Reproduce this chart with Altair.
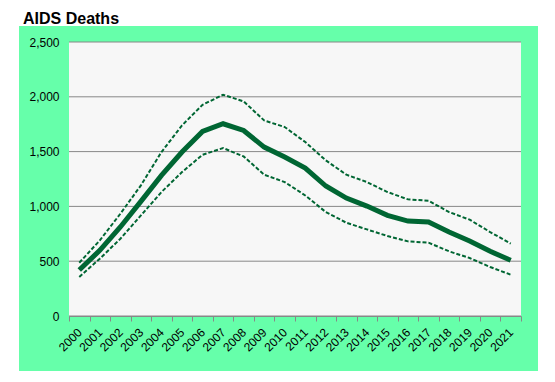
import altair as alt
import pandas as pd

years = [str(y) for y in range(2000, 2022)]
estimate = [420, 599, 812, 1046, 1283, 1496, 1684, 1754, 1693, 1541, 1450,
            1350, 1186, 1076, 1003, 918, 866, 857, 766, 684, 590, 508]
upper = [486, 690, 933, 1192, 1496, 1739, 1927, 2019, 1958, 1784, 1724,
         1587, 1420, 1289, 1222, 1131, 1064, 1052, 948, 879, 766, 660]
lower = [356, 523, 705, 918, 1131, 1313, 1471, 1532, 1456, 1289, 1222,
         1100, 948, 851, 790, 730, 681, 669, 590, 529, 447, 377]
y_ticks = [0, 500, 1000, 1500, 2000, 2500]

W, H = 452, 274
GREEN = "#66FFAA"
LINE = "#006633"
FONT = "Liberation Sans"

df = pd.DataFrame({"year": years, "estimate": estimate, "upper": upper, "lower": lower})
grid_df = pd.DataFrame({"v": y_ticks})

xenc = alt.X("year:O", sort=years,
             scale=alt.Scale(type="band", paddingInner=0, paddingOuter=0),
             axis=alt.Axis(title=None, tickBand="extent", labelAngle=315,
                           labelAlign="right", labelBaseline="middle",
                           labelFontSize=12, labelColor="black", labelFont=FONT,
                           domainColor="#888888", tickColor="#888888",
                           tickSize=5, labelPadding=9, zindex=1, grid=False))
yscale = alt.Scale(domain=[0, 2500], nice=False)
yaxis = alt.Axis(title=None, values=y_ticks, format=",.0f", ticks=False, domain=False,
                 grid=False, labelFontSize=12, labelColor="black", labelFont=FONT,
                 labelPadding=10, zindex=1)

green_bg = alt.Chart(pd.DataFrame({"a": [0]})).mark_rect(color=GREEN).encode(
    x=alt.value(-50), x2=alt.value(W + 17), y=alt.value(-16), y2=alt.value(H + 55))
plot_bg = alt.Chart(pd.DataFrame({"a": [0]})).mark_rect(color="#F7F7F7").encode(
    x=alt.value(0), x2=alt.value(W), y=alt.value(0), y2=alt.value(H))
grid = alt.Chart(grid_df).mark_rule(color="#888888", strokeWidth=1).encode(
    y=alt.Y("v:Q", scale=yscale, axis=yaxis))

base = alt.Chart(df).encode(x=xenc)
main = base.mark_line(color=LINE, strokeWidth=5).encode(
    y=alt.Y("estimate:Q", scale=yscale, axis=yaxis))
up = base.mark_line(color=LINE, strokeWidth=2, strokeDash=[4, 2]).encode(
    y=alt.Y("upper:Q", scale=yscale, axis=yaxis))
lo = base.mark_line(color=LINE, strokeWidth=2, strokeDash=[4, 2]).encode(
    y=alt.Y("lower:Q", scale=yscale, axis=yaxis))

chart = alt.layer(green_bg, plot_bg, grid, up, lo, main).properties(
    width=W, height=H,
    title=alt.TitleParams("AIDS Deaths", anchor="start", font=FONT, fontSize=16,
                          fontWeight="bold", color="black", dx=4, offset=0, dy=1),
    autosize=alt.AutoSizeParams(type="none"),
    padding={"left": 61, "top": 34, "right": 22, "bottom": 60},
).configure_view(stroke=None).configure(background="white")

chart.save("out.html", embed_options={"renderer": "svg", "actions": False})
